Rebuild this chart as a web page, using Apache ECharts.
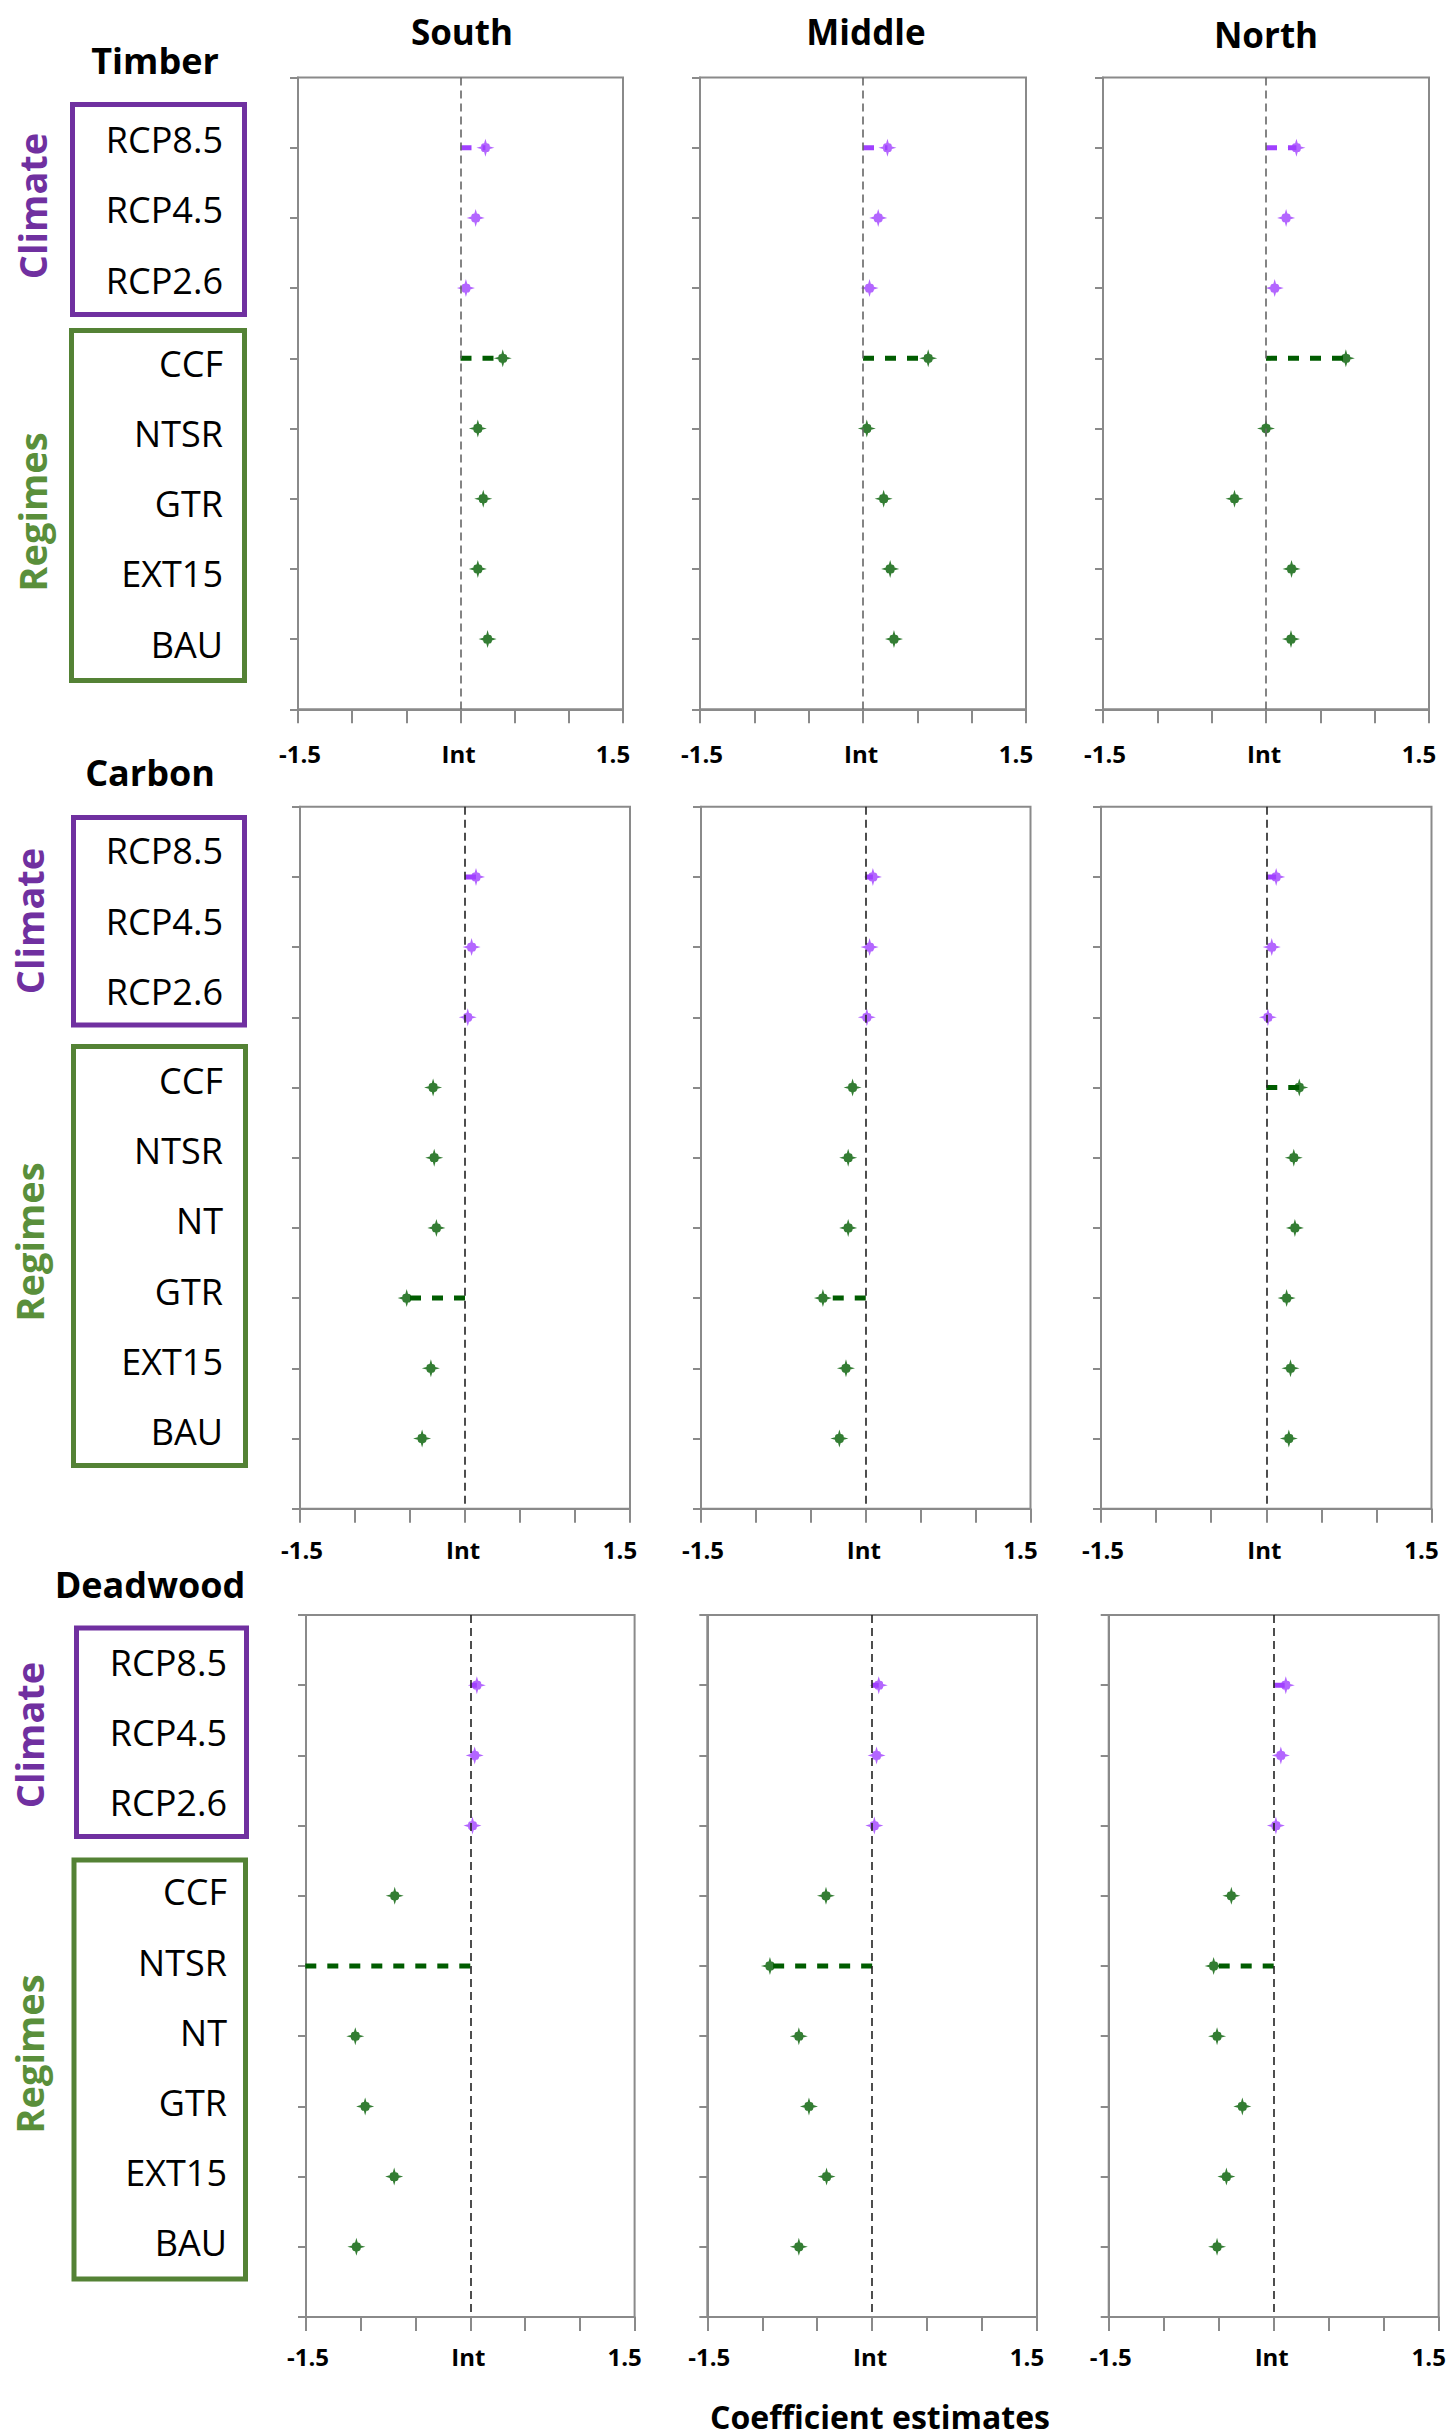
<!DOCTYPE html>
<html>
<head>
<meta charset="utf-8">
<script src="https://cdn.jsdelivr.net/npm/echarts@6.0.0/dist/echarts.min.js"></script>
<style>
  html, body { margin: 0; padding: 0; background: #ffffff; }
  #chart { width: 1453px; height: 2436px; }
</style>
</head>
<body>
<div id="chart"></div>
<script>
// ---------------- DATA ----------------
const regionNames = ['South', 'Middle', 'North'];
const responseNames = ['Timber', 'Carbon', 'Deadwood'];
const groupNames = ['Climate', 'Regimes'];
const climateLevels = ['RCP8.5', 'RCP4.5', 'RCP2.6'];
const timberRegimes = ['CCF', 'NTSR', 'GTR', 'EXT15', 'BAU'];
const carbonRegimes = ['CCF', 'NTSR', 'NT', 'GTR', 'EXT15', 'BAU'];
const deadwoodRegimes = ['CCF', 'NTSR', 'NT', 'GTR', 'EXT15', 'BAU'];
const xTickValues = [-1.5, 0, 1.5];
const xTickLabels = ['-1.5', 'Int', '1.5'];
const axisTitle = 'Coefficient estimates';

// Timber
const timberSouthClimate = [0.23, 0.14, 0.05];
const timberSouthRegimes = [0.39, 0.16, 0.21, 0.16, 0.25];
const timberMiddleClimate = [0.225, 0.14, 0.06];
const timberMiddleRegimes = [0.60, 0.035, 0.19, 0.25, 0.285];
const timberNorthClimate = [0.28, 0.185, 0.08];
const timberNorthRegimes = [0.735, 0.0, -0.29, 0.235, 0.23];
// Carbon
const carbonSouthClimate = [0.10, 0.06, 0.025];
const carbonSouthRegimes = [-0.29, -0.28, -0.26, -0.53, -0.31, -0.39];
const carbonMiddleClimate = [0.065, 0.035, 0.01];
const carbonMiddleRegimes = [-0.12, -0.16, -0.16, -0.39, -0.18, -0.24];
const carbonNorthClimate = [0.09, 0.05, 0.015];
const carbonNorthRegimes = [0.30, 0.25, 0.26, 0.185, 0.22, 0.205];
// Deadwood
const deadwoodSouthClimate = [0.06, 0.04, 0.02];
const deadwoodSouthRegimes = [-0.69, -1.51, -1.05, -0.96, -0.695, -1.04];
const deadwoodMiddleClimate = [0.06, 0.04, 0.02];
const deadwoodMiddleRegimes = [-0.42, -0.93, -0.667, -0.575, -0.415, -0.667];
const deadwoodNorthClimate = [0.11, 0.065, 0.02];
const deadwoodNorthRegimes = [-0.385, -0.546, -0.515, -0.285, -0.43, -0.515];

// rows drawn with a dashed connector from the intercept
const timberSouthConnected = ['RCP8.5', 'CCF'];
const timberMiddleConnected = ['RCP8.5', 'CCF'];
const timberNorthConnected = ['RCP8.5', 'CCF'];
const carbonSouthConnected = ['RCP8.5', 'GTR'];
const carbonMiddleConnected = ['RCP8.5', 'GTR'];
const carbonNorthConnected = ['RCP8.5', 'CCF'];
const deadwoodSouthConnected = ['RCP8.5', 'NTSR'];
const deadwoodMiddleConnected = ['RCP8.5', 'NTSR'];
const deadwoodNorthConnected = ['RCP8.5', 'NTSR'];

// ---------------- STRUCTURE ----------------
const responses = [
  { name: responseNames[0], regimes: timberRegimes,
    panels: [
      [timberSouthClimate, timberSouthRegimes, timberSouthConnected],
      [timberMiddleClimate, timberMiddleRegimes, timberMiddleConnected],
      [timberNorthClimate, timberNorthRegimes, timberNorthConnected]] },
  { name: responseNames[1], regimes: carbonRegimes,
    panels: [
      [carbonSouthClimate, carbonSouthRegimes, carbonSouthConnected],
      [carbonMiddleClimate, carbonMiddleRegimes, carbonMiddleConnected],
      [carbonNorthClimate, carbonNorthRegimes, carbonNorthConnected]] },
  { name: responseNames[2], regimes: deadwoodRegimes,
    panels: [
      [deadwoodSouthClimate, deadwoodSouthRegimes, deadwoodSouthConnected],
      [deadwoodMiddleClimate, deadwoodMiddleRegimes, deadwoodMiddleConnected],
      [deadwoodNorthClimate, deadwoodNorthRegimes, deadwoodNorthConnected]] }
];

// ---------------- LAYOUT / STYLE ----------------
const layout = [
  { top: 77.5, unit: 70.2, lefts: [298, 700, 1103], widths: [325, 326, 326],
    catMargin: 75, climateShift: -8, regimeShift: 5, xLabelMargin: 32,
    title: [155, 60.5], climateBox: [72.5, 104.5, 172, 210], regimeBox: [71.5, 330.5, 173, 350],
    climateText: [32, 206], regimeText: [32, 512], zeroColor: '#666666' },
  { top: 806.7, unit: 70.2, lefts: [300, 701, 1101], widths: [330, 329.5, 330.5],
    catMargin: 77, climateShift: -26, regimeShift: -7, xLabelMargin: 29,
    title: [150, 772], climateBox: [73.5, 817.5, 171, 207.5], regimeBox: [73.5, 1046.5, 172, 419],
    climateText: [29, 921], regimeText: [29, 1242], zeroColor: '#222222' },
  { top: 1615, unit: 70.2, lefts: [306, 707.3, 1108.7], widths: [328.6, 329.7, 330],
    catMargin: 79, climateShift: -23, regimeShift: -4, xLabelMargin: 27,
    title: [150, 1584], climateBox: [76.5, 1628, 170, 208.5], regimeBox: [74, 1860, 171.5, 419],
    climateText: [29, 1735], regimeText: [29, 2054], zeroColor: '#222222' }
];
const colTitlePos = [[462, 31.5], [866, 31.5], [1266, 34]];
const axisTitlePos = [880, 2416];

const FONT = '"Open Sans", "DejaVu Sans", sans-serif';
const FRAME = '#8a8a8a';
const PURPLE_MARK = '#a040ff';
const GREEN_MARK = '#005c00';
const PURPLE_BOX = '#7030a0';
const GREEN_BOX = '#548235';
const GREEN_TEXT = '#5a8f3b';
const STAR = 'path://M0,-9L1.3,-4.4Q4.4,-4.4 4.4,-1.3L9,0L4.4,1.3Q4.4,4.4 1.3,4.4L0,9L-1.3,4.4Q-4.4,4.4 -4.4,1.3L-9,0L-4.4,-1.3Q-4.4,-4.4 -1.3,-4.4Z';

function shiftPad(d) { return d < 0 ? [0, 0, -2 * d, 0] : [2 * d, 0, 0, 0]; }

const grids = [], xAxes = [], yAxes = [], series = [], graphics = [];

responses.forEach(function (resp, r) {
  const L = layout[r];
  const cats = climateLevels.concat(resp.regimes);
  const n = cats.length;
  resp.panels.forEach(function (panel, c) {
    const gi = grids.length;
    grids.push({
      left: L.lefts[c], top: L.top, width: L.widths[c], height: L.unit * (n + 1),
      show: true, borderColor: FRAME, borderWidth: 2, backgroundColor: 'transparent',
      containLabel: false, outerBoundsMode: 'none'
    });
    xAxes.push({
      gridIndex: gi, type: 'value', min: -1.5, max: 1.5, interval: 0.5, position: 'bottom',
      axisLine: { show: true, onZero: false, lineStyle: { color: FRAME, width: 2 } },
      axisTick: { show: true, inside: false, length: 14, lineStyle: { color: FRAME, width: 2 } },
      splitLine: { show: false },
      axisLabel: {
        show: true, margin: L.xLabelMargin, showMinLabel: true, showMaxLabel: true,
        formatter: function (v) {
          const k = xTickValues.findIndex(function (t) { return Math.abs(t - v) < 1e-9; });
          if (k < 0) return '';
          return '{t' + k + '|' + xTickLabels[k] + '}';
        },
        rich: {
          t0: { fontFamily: FONT, fontWeight: 'bold', fontSize: 24, color: '#000', padding: [0, 0, 0, 4] },
          t1: { fontFamily: FONT, fontWeight: 'bold', fontSize: 24, color: '#000', padding: [0, 4, 0, 0] },
          t2: { fontFamily: FONT, fontWeight: 'bold', fontSize: 24, color: '#000', padding: [0, 20, 0, 0] }
        }
      }
    });
    yAxes.push({
      gridIndex: gi, type: 'value', inverse: true, min: 0, max: n + 1, interval: 1,
      axisLine: { show: true, onZero: false, lineStyle: { color: FRAME, width: 2 } },
      axisTick: { show: true, inside: false, length: 8, lineStyle: { color: FRAME, width: 2 } },
      splitLine: { show: false },
      axisLabel: {
        show: c === 0, margin: L.catMargin,
        formatter: function (v) {
          const i = Math.round(v) - 1;
          if (i < 0 || i >= n) return '';
          return '{' + (i < climateLevels.length ? 'c' : 'g') + '|' + cats[i] + '}';
        },
        rich: {
          c: { fontFamily: FONT, fontSize: 36, color: '#000', padding: shiftPad(L.climateShift) },
          g: { fontFamily: FONT, fontSize: 36, color: '#000', padding: shiftPad(L.regimeShift) }
        }
      }
    });

    const climateVals = panel[0], regimeVals = panel[1], connected = panel[2];
    const allVals = climateVals.concat(regimeVals);

    connected.forEach(function (name) {
      const i = cats.indexOf(name);
      series.push({
        type: 'line', xAxisIndex: gi, yAxisIndex: gi, silent: true, z: 2,
        symbol: 'none', animation: false,
        lineStyle: { color: i < climateLevels.length ? PURPLE_MARK : GREEN_MARK, width: 5, type: [11, 11], cap: 'butt' },
        data: [[0, i + 1], [allVals[i], i + 1]]
      });
    });

    series.push({
      type: 'scatter', xAxisIndex: gi, yAxisIndex: gi, symbol: STAR, symbolSize: 18, z: 3,
      itemStyle: { color: PURPLE_MARK }, animation: false,
      data: climateVals.map(function (v, i) { return [v, i + 1]; }),
      markLine: {
        silent: true, symbol: ['none', 'none'], label: { show: false }, animation: false,
        lineStyle: { color: L.zeroColor, width: 1.6, type: [8, 5] },
        emphasis: { disabled: true },
        data: [{ xAxis: 0 }]
      }
    });
    series.push({
      type: 'scatter', xAxisIndex: gi, yAxisIndex: gi, symbol: STAR, symbolSize: 18, z: 3,
      itemStyle: { color: GREEN_MARK }, animation: false,
      data: regimeVals.map(function (v, i) { return [v, i + 1 + climateLevels.length]; })
    });
  });

  // side annotations
  graphics.push({ type: 'text', x: L.title[0], y: L.title[1], z: 10,
    style: { text: resp.name, fill: '#000', font: 'bold 36px ' + FONT,
      textAlign: 'center', textVerticalAlign: 'middle', align: 'center', verticalAlign: 'middle' } });
  graphics.push({ type: 'rect', z: 10, shape: { x: L.climateBox[0], y: L.climateBox[1], width: L.climateBox[2], height: L.climateBox[3] },
    style: { fill: 'none', stroke: PURPLE_BOX, lineWidth: 5 } });
  graphics.push({ type: 'rect', z: 10, shape: { x: L.regimeBox[0], y: L.regimeBox[1], width: L.regimeBox[2], height: L.regimeBox[3] },
    style: { fill: 'none', stroke: GREEN_BOX, lineWidth: 5 } });
  graphics.push({ type: 'text', x: L.climateText[0], y: L.climateText[1], rotation: Math.PI / 2, z: 10,
    style: { text: groupNames[0], fill: PURPLE_BOX, font: 'bold 38px ' + FONT,
      textAlign: 'center', textVerticalAlign: 'middle', align: 'center', verticalAlign: 'middle' } });
  graphics.push({ type: 'text', x: L.regimeText[0], y: L.regimeText[1], rotation: Math.PI / 2, z: 10,
    style: { text: groupNames[1], fill: GREEN_TEXT, font: 'bold 38px ' + FONT,
      textAlign: 'center', textVerticalAlign: 'middle', align: 'center', verticalAlign: 'middle' } });
});

regionNames.forEach(function (name, c) {
  graphics.push({ type: 'text', x: colTitlePos[c][0], y: colTitlePos[c][1], z: 10,
    style: { text: name, fill: '#000', font: 'bold 35px ' + FONT,
      textAlign: 'center', textVerticalAlign: 'middle', align: 'center', verticalAlign: 'middle' } });
});
graphics.push({ type: 'text', x: axisTitlePos[0], y: axisTitlePos[1], z: 10,
  style: { text: axisTitle, fill: '#000', font: 'bold 32px ' + FONT,
    textAlign: 'center', textVerticalAlign: 'middle', align: 'center', verticalAlign: 'middle' } });

const chart = echarts.init(document.getElementById('chart'), null, { renderer: 'svg', width: 1453, height: 2436 });
chart.setOption({
  backgroundColor: '#ffffff',
  animation: false,
  textStyle: { fontFamily: FONT },
  grid: grids, xAxis: xAxes, yAxis: yAxes, series: series, graphic: graphics
});
</script>
</body>
</html>
